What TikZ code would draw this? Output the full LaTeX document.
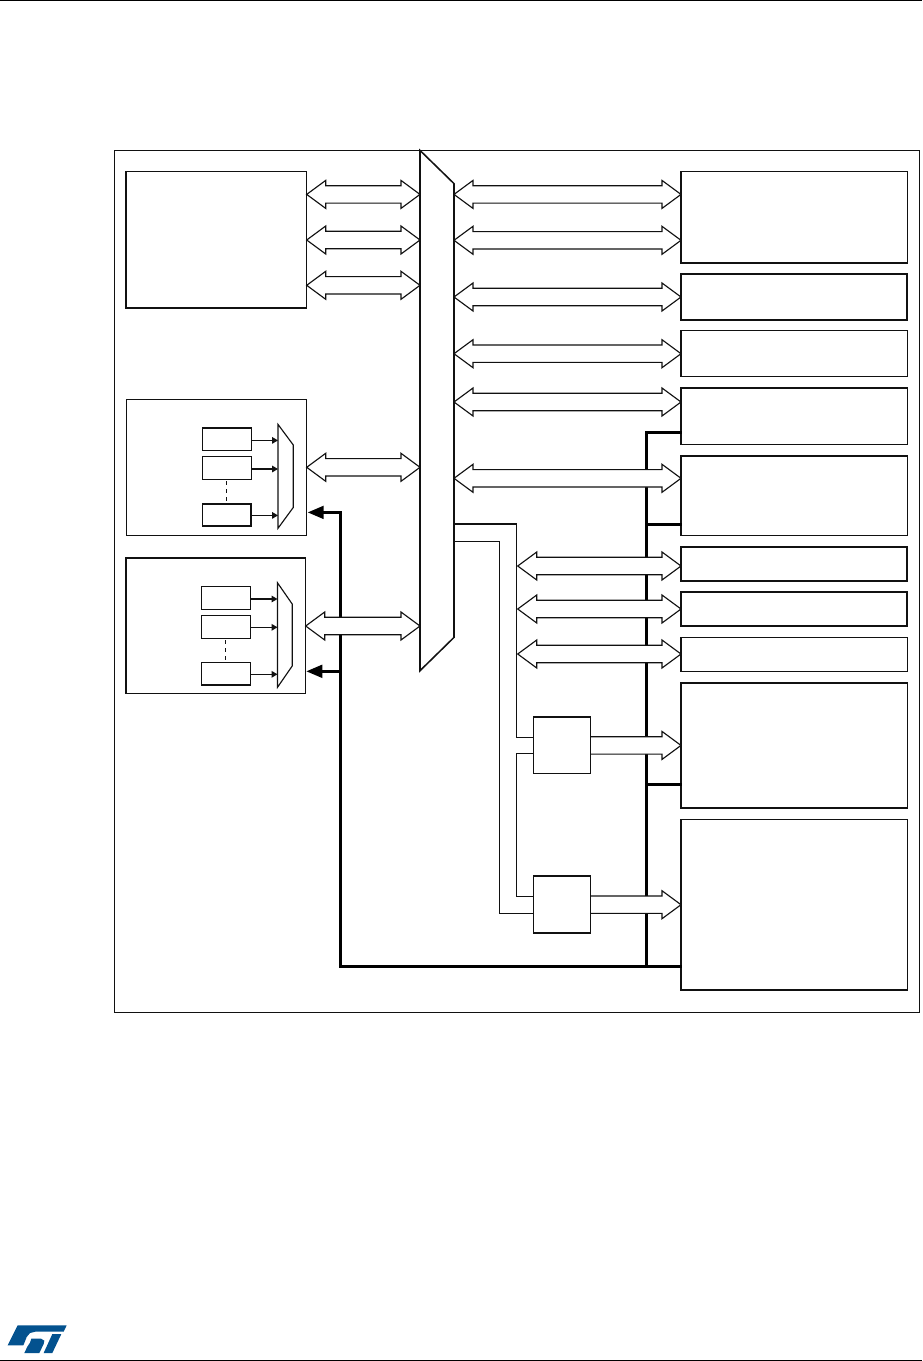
\documentclass[tikz,border=0pt]{standalone}
\usetikzlibrary{calc,arrows.meta}
\definecolor{stblue}{HTML}{03528F}
\definecolor{ink}{HTML}{111111}
\tikzset{
  blk/.style={draw=ink,fill=white,line width=1.05pt,inner sep=0,outer sep=0,anchor=north west},
  blkthin/.style={blk,line width=0.85pt},
  blkheavy/.style={blk,line width=1.25pt},
  hidden/.style={inner sep=0,outer sep=0,anchor=north west},
  busline/.style={draw=ink,fill=white,line width=0.85pt,line join=miter,miter limit=4},
  wire/.style={draw=ink,line width=0.8pt},
  ctl/.style={draw=black,line width=2.1pt,line cap=rect},
  ctlarrow/.style={draw=black,line width=2.1pt,-{Triangle[length=12pt,width=9.5pt]}},
  sel/.style={draw=ink,line width=0.8pt,-{Triangle[length=4.5pt,width=5pt]}},
  dots/.style={draw=ink,line width=0.7pt,dash pattern=on 3pt off 3pt},
  muxshape/.style={draw=ink,fill=white,line width=0.85pt},
  rule/.style={draw=black,line width=0.9pt}
}
% #1 style #2 name #3 x1 #4 y1 #5 x2 #6 y2
\newcommand\pxbox[6]{\node[#1,minimum width={(#5-#3)*0.75pt},minimum height={(#6-#4)*0.75pt}] (#2) at (#3,#4) {};}
% double-headed bus between the east side of #1 and the west side of #2 at height #3
\newcommand\dbus[3]{%
  \coordinate (tL) at (#1.east |- 0,#3);
  \coordinate (tR) at (#2.west |- 0,#3);
  \draw[busline] (tL) -- ++(19,-14) -- ++(0,5.3) -- ($(tR)+(-19,-8.7)$) -- ++(0,-5.3) -- (tR)
     -- ++(-19,14) -- ++(0,-5.3) -- ($(tL)+(19,8.7)$) -- ++(0,5.3) -- cycle;}
% single-headed bus
\newcommand\sbus[3]{%
  \coordinate (tL) at (#1.east |- 0,#3);
  \coordinate (tR) at (#2.west |- 0,#3);
  \fill[white] ($(tL)+(0,-8.7)$) -- ($(tR)+(-19,-8.7)$) -- ($(tR)+(-19,8.7)$) -- ($(tL)+(0,8.7)$) -- cycle;
  \draw[busline] ($(tL)+(0,-8.7)$) -- ($(tR)+(-19,-8.7)$) -- ++(0,-5.3) -- (tR)
     -- ++(-19,14) -- ++(0,-5.3) -- ($(tL)+(0,8.7)$);}
\begin{document}
\begin{tikzpicture}[x=0.75pt,y=-0.75pt]
\useasboundingbox (0,0) rectangle (922,1361);
\fill[white] (0,0) rectangle (922,1361);
% page rules
\coordinate (ruleTL) at (0,0.6); \coordinate (ruleTR) at (922,0.6);
\coordinate (ruleBL) at (0,1360.2); \coordinate (ruleBR) at (922,1360.2);
\draw[rule] (ruleTL) -- (ruleTR);
\draw[rule] (ruleBL) -- (ruleBR);
% frame
\pxbox{blkthin}{frame}{114.4}{150.4}{919.3}{1012.6}
% left blocks
\pxbox{blk}{cpu}{125.8}{171.7}{306.7}{308}
\pxbox{blkthin}{dmaA}{126.4}{399.4}{306.7}{535.3}
\pxbox{blk}{dmaB}{125.8}{558}{305.7}{693.7}
% bus matrix anchor box
\pxbox{hidden}{matrix}{420}{150.4}{454}{670.7}
% right blocks
\pxbox{blk}{rA}{681}{171.7}{907.3}{263}
\pxbox{blkheavy}{rB}{681}{274}{907.3}{320}
\pxbox{blkthin}{rC}{681}{330.4}{907.3}{376.3}
\pxbox{blk}{rD}{681}{387.8}{907.3}{444.3}
\pxbox{blk}{rE}{681}{455.8}{907.3}{535.3}
\pxbox{blkheavy}{rF}{681}{547}{907.3}{580.7}
\pxbox{blkheavy}{rG}{681}{591.8}{907.3}{626}
\pxbox{blkthin}{rH}{681}{637.4}{907.3}{671.3}
\pxbox{blk}{rI}{681}{683}{907.3}{808}
\pxbox{blk}{rJ}{681}{819.4}{907.3}{990}
% control bus (under the hollow buses)
\coordinate (junc) at (646.3,966.7);
\coordinate (juncL) at (340.3,966.7);
\draw[ctl] (junc) -- (646.3,432.8) -- (rD.west |- 0,432.8);
\draw[ctl] (646.3,524.3) -- (rE.west |- 0,524.3);
\draw[ctl] (646.3,784.3) -- (rI.west |- 0,784.3);
\draw[ctl] (juncL) -- (rJ.west |- 0,966.7);
\draw[ctl] (juncL) -- (340.3,512.4);
\coordinate (tipA) at (307.7,512.4);
\coordinate (tipB) at (306.3,671.3);
\draw[ctlarrow] (340.3,512.4) -- (tipA);
\draw[ctlarrow] (340.3,671.3) -- (tipB);
% matrix outline
\draw[draw=ink,fill=white,line width=1.15pt,line join=miter] (matrix.north west) -- (matrix.east |- 0,183.6) -- (matrix.east |- 0,637.4) -- (matrix.south west) -- cycle;
% buses left
\dbus{cpu}{matrix}{194.4}
\dbus{cpu}{matrix}{240}
\dbus{cpu}{matrix}{285.3}
\dbus{dmaA}{matrix}{467.3}
\dbus{dmaB}{matrix}{626}
% buses right
\dbus{matrix}{rA}{194.4}
\dbus{matrix}{rA}{240.3}
\dbus{matrix}{rB}{297}
\dbus{matrix}{rC}{353.7}
\dbus{matrix}{rD}{402}
\dbus{matrix}{rE}{478.3}
% hidden anchors of the bridges, for the buses drawn before them
\pxbox{hidden}{brAx}{533.4}{717}{590.2}{773.4}
\pxbox{hidden}{brBx}{533.4}{876}{590.3}{933}
% single-headed
\sbus{brAx}{rI}{745.4}
\sbus{brBx}{rJ}{904.7}
% bridges
\pxbox{blk}{brA}{533.4}{717}{590.2}{773.4}
\pxbox{blk}{brB}{533.4}{876}{590.3}{933}
% wires from matrix
\draw[wire] (matrix.east |- 0,524) -- (516.4,524) -- (516.4,737.2) -- (brA.west |- 0,737.2);
\draw[wire] (matrix.east |- 0,541.3) -- (499.4,541.3) -- (499.4,913.3) -- (brB.west |- 0,913.3);
\draw[wire] (brA.west |- 0,753.4) -- (516.4,753.4) -- (516.4,896.3) -- (brB.west |- 0,896.3);
% hollow buses from the vertical wire
\node[hidden] (busN) at (516.4,600) {};
\dbus{busN}{rF}{566}
\dbus{busN}{rG}{609}
\dbus{busN}{rH}{654}
% DMA A internals
\pxbox{blk}{aA}{202.4}{427.8}{251.3}{450.3}
\pxbox{blkthin}{aB}{202.4}{456.4}{251.3}{479.3}
\pxbox{blkheavy}{aC}{202.4}{504.2}{251.3}{526.3}
\pxbox{hidden}{muxA}{278}{424.4}{293.3}{528.3}
\draw[muxshape] (muxA.north west) -- (muxA.east |- 0,445) -- (muxA.east |- 0,507.4) -- (muxA.south west) -- cycle;
\draw[sel] (aA.east |- 0,440.4) -- (muxA.west |- 0,440.4);
\draw[sel] (aB.east |- 0,469) -- (muxA.west |- 0,469);
\draw[sel] (aC.east |- 0,515.4) -- (muxA.west |- 0,515.4);
\draw[dots] (aB.south) ++(0,2) -- (aC.north);
% DMA B internals
\pxbox{blkthin}{bA}{201.4}{586.8}{250.5}{609.4}
\pxbox{blkthin}{bB}{201.4}{615.4}{250.5}{638.3}
\pxbox{blkheavy}{bC}{201.4}{662.4}{250.5}{685.3}
\pxbox{hidden}{muxB}{277.5}{582.8}{292.2}{687.3}
\draw[muxshape] (muxB.north west) -- (muxB.east |- 0,604) -- (muxB.east |- 0,666) -- (muxB.south west) -- cycle;
\draw[sel] (bA.east |- 0,599) -- (muxB.west |- 0,599);
\draw[sel] (bB.east |- 0,627.3) -- (muxB.west |- 0,627.3);
\draw[sel] (bC.east |- 0,674.3) -- (muxB.west |- 0,674.3);
\draw[dots] (bB.south) ++(0,2) -- (bC.north);
% ST logo
\begin{scope}[shift={(6,1322)},x=0.25pt,y=-0.25pt]
\fill[stblue] (35,10) -- (182,10) -- (173,29) -- (88,29) -- (72,33) -- (62,45) -- (57,58) -- (52,70) -- (5,70) -- cycle;
\fill[stblue] (76,50) -- (105,50) -- (115,56) -- (113,66) -- (100,93) -- (55,93) -- (64,74) -- (72,62) -- cycle;
\fill[stblue] (139,36) -- (166,36) -- (139,93) -- (113,93) -- cycle;
\end{scope}
\end{tikzpicture}
\end{document}
